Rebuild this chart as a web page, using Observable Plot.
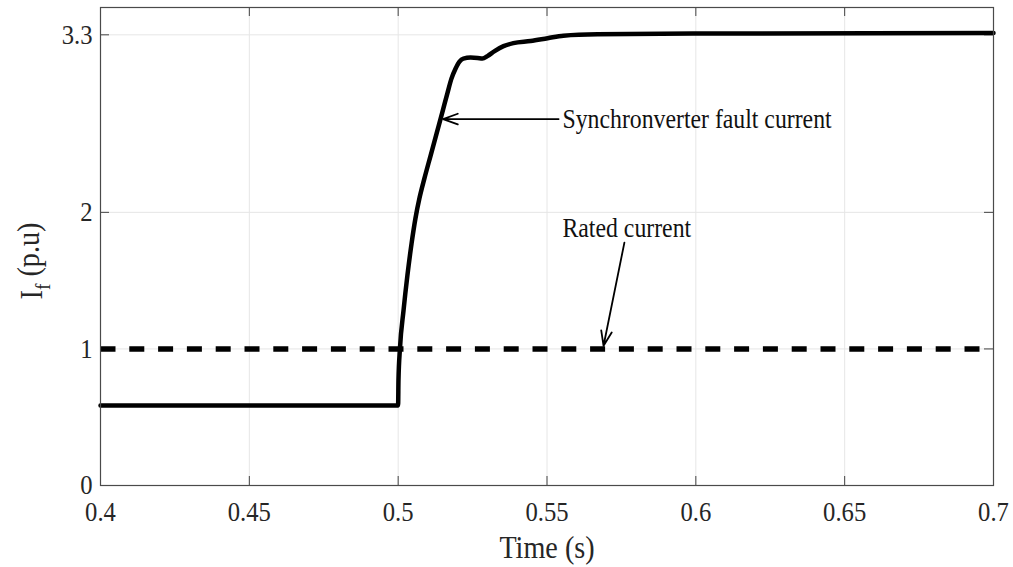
<!DOCTYPE html>
<html>
<head>
<meta charset="utf-8">
<script src="https://cdn.jsdelivr.net/npm/d3@7"></script>
<script src="https://cdn.jsdelivr.net/npm/@observablehq/plot@0.6"></script>
<style>
  html, body { margin: 0; padding: 0; background: #fff; }
  svg { display: block; }
</style>
</head>
<body>
<div id="chart"></div>
<script>
// ---- data ----
const time = [0.4, 0.4999, 0.5, 0.5001, 0.5006, 0.5018, 0.5031, 0.5045, 0.5058, 0.5072, 0.5088, 0.5109, 0.5129, 0.5149, 0.5166, 0.5179, 0.5193, 0.5206, 0.5219, 0.5243, 0.5267, 0.5283, 0.5300, 0.5324, 0.5354, 0.5387, 0.5445, 0.5502, 0.5555, 0.5670, 0.6016, 0.7];
const faultCurrent = [0.586, 0.586, 0.60, 0.769, 1.003, 1.281, 1.537, 1.772, 1.955, 2.108, 2.247, 2.416, 2.577, 2.738, 2.877, 2.979, 3.053, 3.104, 3.126, 3.133, 3.130, 3.126, 3.144, 3.181, 3.217, 3.239, 3.254, 3.275, 3.294, 3.304, 3.309, 3.313];
const ratedTime = [0.4, 0.7];
const ratedCurrent = [1, 1];
const xTicks = [0.4, 0.45, 0.5, 0.55, 0.6, 0.65, 0.7];
const yTicks = [0, 1, 2, 3.3];
const xDomain = [0.4, 0.7];
const yDomain = [0, 3.5];
const annotationLabels = ["Synchronverter fault current", "Rated current"];
const annotationX = [0.5552, 0.5552];
const annotationY = [2.683, 1.886];
const arrowX1 = [0.5539, 0.5760];
const arrowY1 = [2.683, 1.778];
const arrowX2 = [0.5151, 0.5690];
const arrowY2 = [2.683, 1.023];
const xLabel = "Time (s)";

// ---- build tables ----
const fault = time.map((t, i) => ({t, v: faultCurrent[i]}));
const rated = ratedTime.map((t, i) => ({t, v: ratedCurrent[i]}));
const notes = annotationLabels.map((s, i) => ({s, x: annotationX[i], y: annotationY[i]}));
const arrows = arrowX1.map((x1, i) => ({x1, y1: arrowY1[i], x2: arrowX2[i], y2: arrowY2[i]}));

const W = 1013, H = 567;
const mL = 100, mR = 20, mT = 7, mB = 82;
const fw = W - mL - mR, fh = H - mT - mB;
const tickLen = 9;

const chart = Plot.plot({
  width: W, height: H,
  marginLeft: mL, marginRight: mR, marginTop: mT, marginBottom: mB,
  style: {fontFamily: "'Liberation Serif', 'Times New Roman', serif", fontSize: "28px", color: "#262626", background: "#fff"},
  x: {domain: xDomain, ticks: xTicks},
  y: {domain: yDomain, ticks: yTicks},
  marks: [
    Plot.ruleX(xTicks, {x: d => d, stroke: "#e6e6e6", strokeWidth: 1}),
    Plot.ruleY(yTicks, {y: d => d, stroke: "#e6e6e6", strokeWidth: 1}),
    Plot.tickX(xTicks, {x: d => d, insetTop: fh - tickLen, stroke: "#444"}),
    Plot.tickX(xTicks, {x: d => d, insetBottom: fh - tickLen, stroke: "#444"}),
    Plot.tickY(yTicks, {y: d => d, insetRight: fw - tickLen, stroke: "#444"}),
    Plot.tickY(yTicks, {y: d => d, insetLeft: fw - tickLen, stroke: "#444"}),
    Plot.axisX({ticks: xTicks, tickSize: 0, tickPadding: 16, tickFormat: d => String(d), label: null, fontSize: 28}),
    Plot.axisY({ticks: yTicks, tickSize: 0, tickPadding: 8, tickFormat: d => String(d), label: null, fontSize: 28}),
    Plot.line(rated, {x: "t", y: "v", stroke: "#000", strokeWidth: 5.5, strokeDasharray: "15,13.8", strokeLinecap: "butt"}),
    Plot.line(fault, {x: "t", y: "v", curve: "monotone-x", stroke: "#000", strokeWidth: 4.5, strokeLinejoin: "round"}),
    Plot.arrow(arrows, {x1: "x1", y1: "y1", x2: "x2", y2: "y2", stroke: "#000", strokeWidth: 1.8, headLength: 13, headAngle: 40}),
    Plot.text(notes, {x: "x", y: "y", text: "s", textAnchor: "start", lineAnchor: "middle", fontSize: 27, fill: "#111"}),
    Plot.text([xLabel], {text: d => d, frameAnchor: "bottom", lineAnchor: "middle", dy: 62, fontSize: 32, fill: "#262626"}),
    Plot.frame({stroke: "#4a4a4a", strokeWidth: 1.2})
  ]
});

document.getElementById("chart").appendChild(chart);

// y-axis label with subscript
const svg = d3.select(chart);
const ylab = svg.append("text")
  .attr("transform", `translate(42,${mT + fh / 2 + 15}) rotate(-90)`)
  .attr("text-anchor", "middle")
  .attr("font-size", 32)
  .attr("fill", "#262626");
ylab.append("tspan").text("I");
ylab.append("tspan").attr("font-size", 22).attr("dy", "0.35em").text("f");
ylab.append("tspan").attr("dy", "-0.35em").text(" (p.u)");

// horizontally condense all text like the reference
chart.querySelectorAll("text").forEach(el => {
  const len = el.getComputedTextLength();
  if (len > 0) {
    el.setAttribute("textLength", (len * 0.88).toFixed(2));
    el.setAttribute("lengthAdjust", "spacingAndGlyphs");
  }
});
</script>
</body>
</html>
